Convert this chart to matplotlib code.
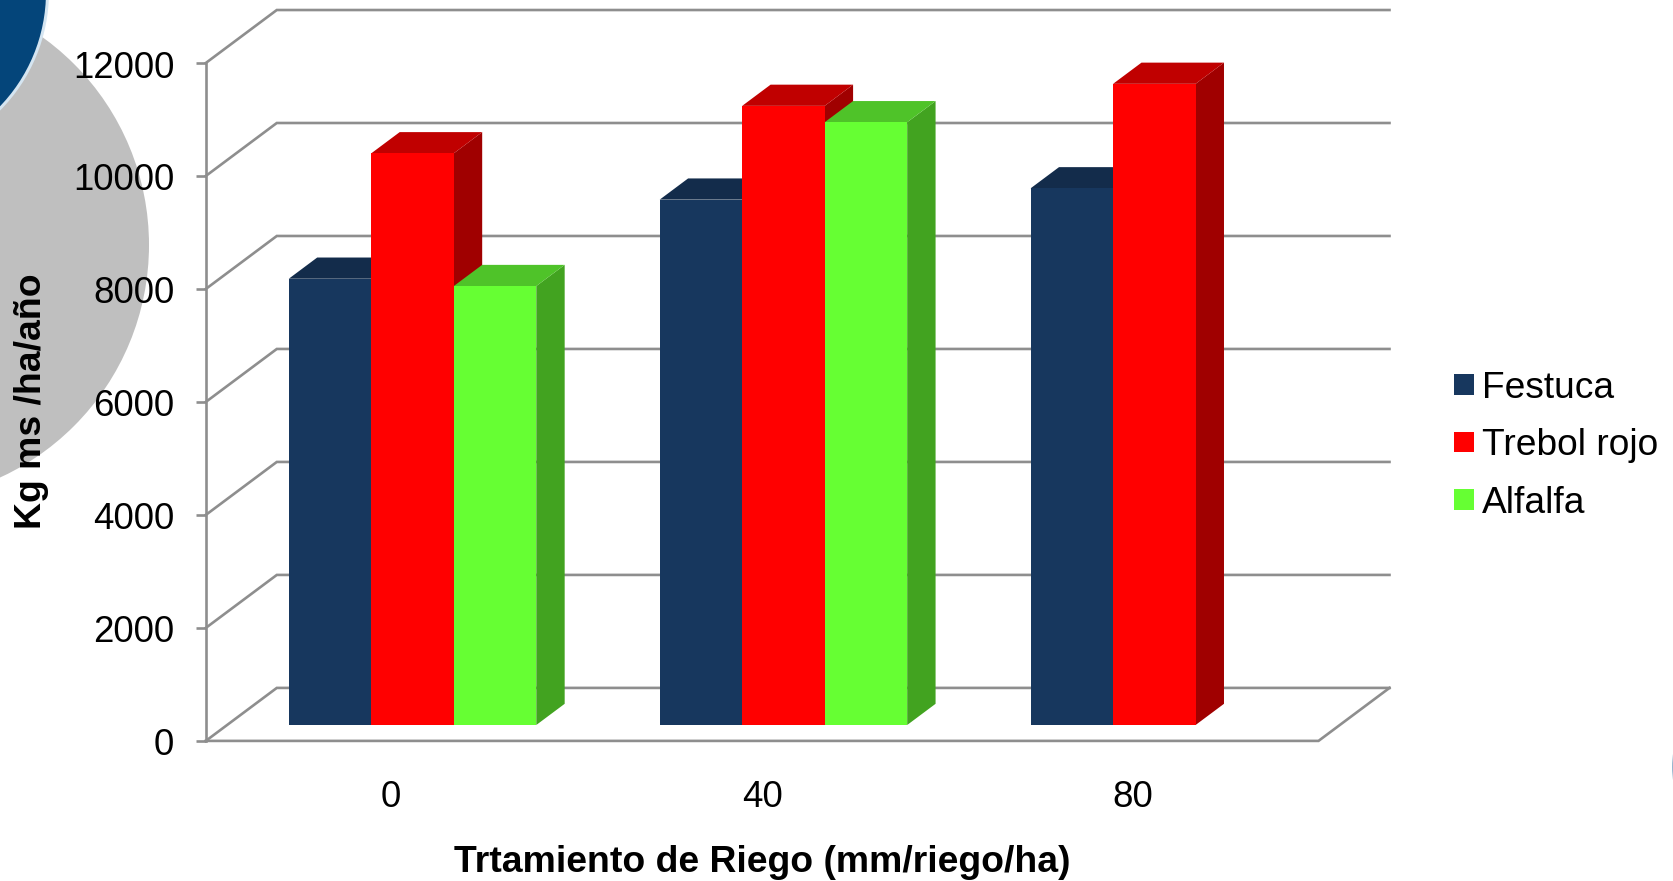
import matplotlib
matplotlib.use("Agg")
import matplotlib.pyplot as plt
from matplotlib.patches import Circle, Polygon
from matplotlib.transforms import IdentityTransform, Affine2D

# Data
treatments = ["0", "40", "80"]
festuca = [7900, 9300, 9500]
trebol_rojo = [10120, 10960, 11350]
alfalfa = [7770, 10670, 0]
series_names = ["Festuca", "Trebol rojo", "Alfalfa"]
y_ticks = [0, 2000, 4000, 6000, 8000, 10000, 12000]

# (front, top, side) colours per series
series_colors = [
    ("#17375E", "#132C4B", "#0F2440"),
    ("#FF0000", "#C00000", "#A00000"),
    ("#66FF33", "#4FC329", "#42A320"),
]

W, H = 1674, 881
GRID = "#8E8E8E"
FONT = "Liberation Sans"
plt.rcParams["font.family"] = FONT

fig = plt.figure(figsize=(W / 100, H / 100), dpi=100, facecolor="white")

# Slide decoration behind the chart
for cx, cy, r, col in [(-107, 245, 256, "#BFBFBF"),
                       (-119, -8, 168, "#D5E5F1"),
                       (-119, -8, 165, "#04457A"),
                       (1836.5, 767, 164, "#2E6A9E")]:
    fig.add_artist(Circle((cx, H - cy), r, color=col, lw=0, zorder=-1,
                          transform=IdentityTransform()))

ax = fig.add_axes([205.8 / W, (H - 740.9) / H, 1112.7 / W, 677.9 / H])
ax.patch.set_visible(False)
ax.set_xlim(-0.5, 2.5)
ax.set_ylim(0, 12000)
for s in ax.spines.values():
    s.set_visible(False)

# Oblique depth of the chart box, in data units
DEPTH_X = 0.1914
DEPTH_Y = 938
BAR_W = 0.2224
BAR_FRONT = 0.3   # bars start 30% into the depth
BAR_BACK = 0.7

lw_grid = 1.9
x0, x1 = ax.get_xlim()

# Walls and floor
for t in y_ticks:
    ax.plot([x0, x0 + DEPTH_X, x1 + DEPTH_X], [t, t + DEPTH_Y, t + DEPTH_Y],
            color=GRID, lw=lw_grid, clip_on=False, zorder=1, solid_joinstyle="miter")
ax.plot([x0, x0], [0, 12000], color=GRID, lw=lw_grid, clip_on=False, zorder=1)
ax.plot([x0, x1, x1 + DEPTH_X], [0, 0, DEPTH_Y], color=GRID, lw=lw_grid,
        clip_on=False, zorder=1, solid_joinstyle="miter")

# 3D bars: side and top faces first, front face on top, series by series
ox = BAR_FRONT * DEPTH_X
oy = BAR_FRONT * DEPTH_Y
ddx = (BAR_BACK - BAR_FRONT) * DEPTH_X
ddy = (BAR_BACK - BAR_FRONT) * DEPTH_Y
values = [festuca, trebol_rojo, alfalfa]
z = 2
for k, vals in enumerate(values):
    front, top, side = series_colors[k]
    xs = [i + (k - 1) * BAR_W + ox for i in range(len(vals))]
    for xc, v in zip(xs, vals):
        if v == 0:
            continue
        xl, xr = xc - BAR_W / 2, xc + BAR_W / 2
        yb, yt = oy, oy + v
        ax.add_patch(Polygon([(xr, yb), (xr + ddx, yb + ddy), (xr + ddx, yt + ddy), (xr, yt)],
                             fc=side, ec="none", clip_on=False, zorder=z))
        ax.add_patch(Polygon([(xl, yt), (xl + ddx, yt + ddy), (xr + ddx, yt + ddy), (xr, yt)],
                             fc=top, ec="none", clip_on=False, zorder=z))
    ax.bar(xs, vals, BAR_W, bottom=oy, color=front, label=series_names[k],
           clip_on=False, zorder=z + 1, linewidth=0)
    z += 2

# Axes text
ax.set_xticks(range(len(treatments)))
ax.set_xticklabels(treatments)
ax.set_yticks(y_ticks)
ax.tick_params(axis="x", length=0, pad=28.5, labelsize=26.4, labelcolor="black")
ax.tick_params(axis="y", length=7.5, width=lw_grid, color=GRID, pad=15.2,
               labelsize=26.4, labelcolor="black")
# nudge the value labels down a touch
for lab in ax.get_yticklabels():
    lab.set_transform(lab.get_transform() + Affine2D().translate(0, -1))

ax.set_xlabel("Trtamiento de Riego (mm/riego/ha)", fontsize=26.9, fontweight="bold", va="center")
ax.xaxis.set_label_coords(0.5, -0.1795)
ax.set_ylabel("Kg ms /ha/año", fontsize=26.9, fontweight="bold", va="center")
ax.yaxis.set_label_coords(-0.1570, 0.5005)

fig.legend(loc="center left", bbox_to_anchor=(1454.5 / W, (H - 445.7) / H),
           frameon=False, fontsize=26.7, borderpad=0, borderaxespad=0,
           handlelength=0.52, handleheight=0.49, handletextpad=0.22, labelspacing=0.61)

fig.savefig("out.png", dpi=100)
